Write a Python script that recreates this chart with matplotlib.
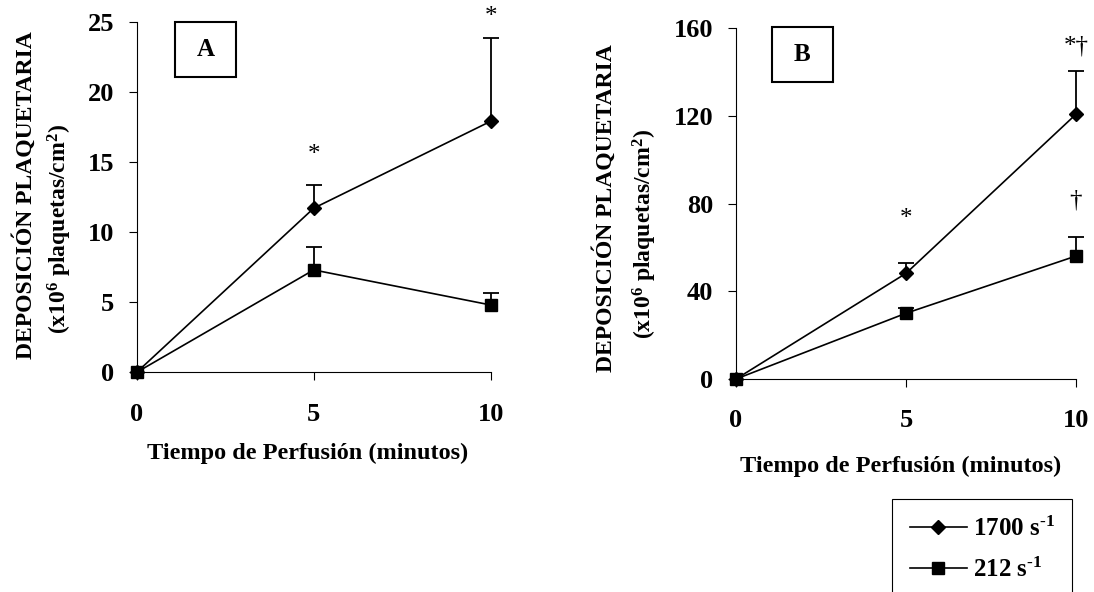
import matplotlib
matplotlib.use("Agg")
import matplotlib.pyplot as plt
from matplotlib.patches import Rectangle

plt.rcParams['font.family'] = ['Liberation Serif', 'DejaVu Serif']
plt.rcParams['font.weight'] = 'bold'
plt.rcParams['mathtext.fontset'] = 'custom'
plt.rcParams['mathtext.rm'] = 'Liberation Serif:bold'
plt.rcParams['mathtext.bf'] = 'Liberation Serif:bold'
plt.rcParams['mathtext.it'] = 'Liberation Serif:bold'
plt.rcParams['mathtext.default'] = 'bf'

# ---------------- data ----------------
minutes = [0, 5, 10]
xticks = [0, 5, 10]

a_1700 = [0, 11.7, 17.9]
a_1700_err = [0, 1.65, 5.95]
a_212 = [0, 7.3, 4.8]
a_212_err = [0, 1.6, 0.85]
a_yticks = [0, 5, 10, 15, 20, 25]
a_marks_x = [5, 10]
a_marks_y = [15.5, 25.3]
a_marks_txt = ['*', '*']

b_1700 = [0, 48.2, 120.8]
b_1700_err = [0, 4.8, 19.7]
b_212 = [0, 30.0, 56.1]
b_212_err = [0, 2.6, 8.9]
b_yticks = [0, 40, 80, 120, 160]
b_marks_x = [5, 10, 10]
b_marks_y = [72.8, 151.5, 81.5]
b_marks_txt = ['*', '*\u2020', '\u2020']

series_labels = ['1700 s$^{\\text{-1}}$', '212 s$^{\\text{-1}}$']
panel_labels = ['A', 'B']
ylabel_1 = 'DEPOSICIÓN PLAQUETARIA'
ylabel_2 = '(x10$^{6}$ plaquetas/cm$^{2}$)'
xlabel = 'Tiempo de Perfusión (minutos)'

# ---------------- layout ----------------
W, H = 1094, 592
fig = plt.figure(figsize=(W / 100, H / 100), dpi=100)


def frac(x0, y0, x1, y1):
    return [x0 / W, 1 - y1 / H, (x1 - x0) / W, (y1 - y0) / H]


axA = fig.add_axes(frac(136.7, 21.7, 490.7, 372.3))
axB = fig.add_axes(frac(736, 28.3, 1076, 379))


def draw_panel(ax, s1, e1, s2, e2, yticks, mx, my, mt):
    l1, = ax.plot(minutes, s1, color='black', lw=1.2, marker='D', ms=7,
                  clip_on=False, zorder=3)
    l2, = ax.plot(minutes, s2, color='black', lw=1.2, marker='s', ms=9,
                  clip_on=False, zorder=3)
    for s, e in ((s1, e1), (s2, e2)):
        xs = [x for x, v in zip(minutes, e) if v > 0]
        lo = [y for y, v in zip(s, e) if v > 0]
        hi = [y + v for y, v in zip(s, e) if v > 0]
        ax.vlines(xs, lo, hi, color='black', lw=1.3, zorder=2, clip_on=False)
        ax.plot(xs, hi, ls='none', marker='_', ms=11.5, mew=1.3,
                color='black', clip_on=False)
    ax.set_xlim(xticks[0], xticks[-1])
    ax.set_ylim(yticks[0], yticks[-1])
    ax.set_xticks(xticks)
    ax.set_yticks(yticks)
    for side in ('top', 'right'):
        ax.spines[side].set_visible(False)
    for side in ('left', 'bottom'):
        ax.spines[side].set_linewidth(0.8)
    ax.tick_params(axis='x', direction='out', length=5.5, width=0.8,
                   pad=16.3, labelsize=19)
    ax.tick_params(axis='y', direction='out', length=5.5, width=0.8,
                   pad=10.8, labelsize=19)
    for x, y, t in zip(mx, my, mt):
        ax.text(x, y, t, ha='center', va='center', fontsize=18,
                fontweight='normal', clip_on=False)
    return l1, l2


l1, l2 = draw_panel(axA, a_1700, a_1700_err, a_212, a_212_err, a_yticks,
                    a_marks_x, a_marks_y, a_marks_txt)
draw_panel(axB, b_1700, b_1700_err, b_212, b_212_err, b_yticks,
           b_marks_x, b_marks_y, b_marks_txt)

# panel letter boxes
for (x0, y0, x1, y1), lab in zip([(174.7, 21.7, 236, 77.3),
                                  (772, 27, 833, 82.4)], panel_labels):
    fig.add_artist(Rectangle((x0 / W, 1 - y1 / H), (x1 - x0) / W,
                             (y1 - y0) / H, transform=fig.transFigure,
                             fill=False, ec='black', lw=1.5))
    fig.text((x0 + x1) / 2 / W, 1 - (y0 + y1) / 2 / H, lab, ha='center',
             va='center', fontsize=18, fontweight='bold')

# axis titles
for (x, y), t in zip([(24.8, 195), (59.8, 229), (605, 208), (645, 233.6)],
                     [ylabel_1, ylabel_2, ylabel_1, ylabel_2]):
    fig.text(x / W, 1 - y / H, t, rotation=90, ha='center', va='center',
             fontsize=17, fontweight='bold')
for (x, y) in [(308, 453.3), (901, 466.5)]:
    fig.text(x / W, 1 - y / H, xlabel, ha='center', va='center',
             fontsize=17.5, fontweight='bold')

leg = fig.legend([l1, l2], series_labels, loc='upper left',
                 bbox_to_anchor=(892.3 / W, 1 - 499.3 / H),
                 bbox_transform=fig.transFigure, borderaxespad=0,
                 frameon=True, fancybox=False, edgecolor='black',
                 framealpha=1, fontsize=18, handlelength=2.28,
                 handletextpad=0.24, borderpad=0.7, labelspacing=0.65)
leg.get_frame().set_linewidth(0.8)

fig.savefig('out.png', dpi=100)
